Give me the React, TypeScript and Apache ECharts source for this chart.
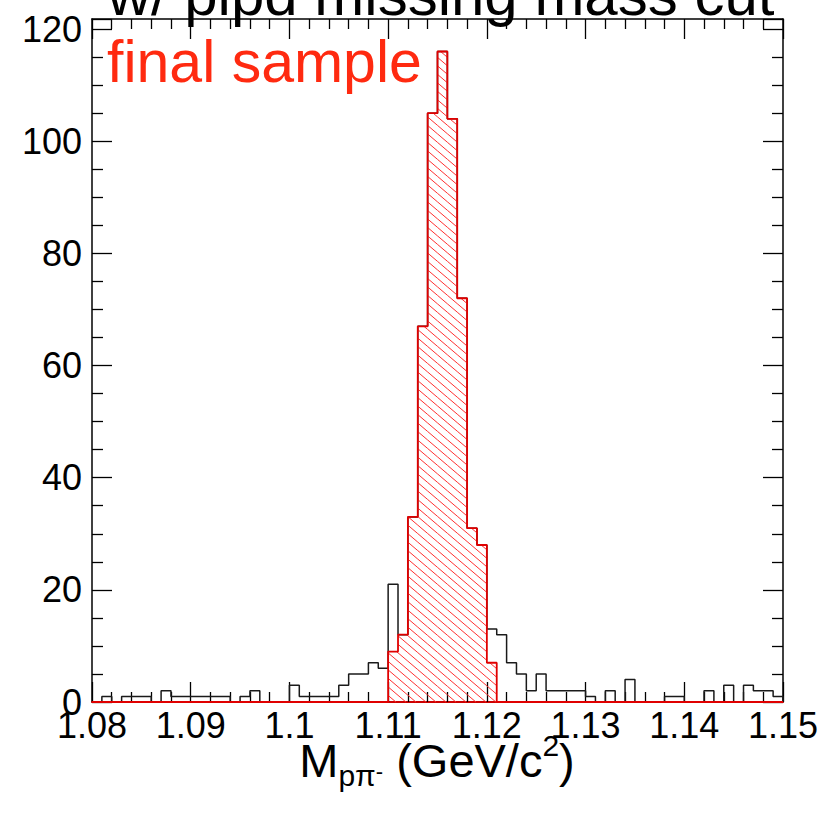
import React, { useEffect, useRef } from "react";
import * as echarts from "echarts";

// ---- axis / binning ----
const X_MIN = 1.08;
const X_MAX = 1.15;
const BIN_WIDTH = 0.001;
const Y_MAX = 121.8;

// ---- data (counts per 0.001 GeV/c^2 bin, starting at 1.080) ----
const allCounts = [
  0, 1, 0, 1, 1, 1, 0, 2, 1, 1, 1, 1, 1, 1, 0, 1, 2, 0, 0, 0,
  3, 1, 1, 1, 1, 3, 5, 5, 7, 6,
  21, 12, 33, 67, 105, 116, 104, 72, 31, 28, 13,
  12, 7, 5, 2, 5, 2, 2, 2, 2, 1, 0, 2, 0, 4, 0, 0, 0, 1, 1, 0,
  0, 2, 0, 3, 0, 3, 2, 2, 1,
];
const finalFirstBin = 30;
const finalCounts = [9, 12, 33, 67, 105, 116, 104, 72, 31, 28, 7];

const xTickLabels = ["1.08", "1.09", "1.1", "1.11", "1.12", "1.13", "1.14", "1.15"];
const yTickLabels = ["0", "20", "40", "60", "80", "100", "120"];

const TITLE = "w/ pipd missing mass cut";
const LEGEND_TEXT = "final sample";

const FONT = "'Liberation Sans', Arial, Helvetica, sans-serif";

function edge(i: number): number {
  return +(X_MIN + i * BIN_WIDTH).toFixed(4);
}

function outline(counts: number[], firstBin: number, fullBase: boolean): number[][] {
  const pts: number[][] = [];
  if (fullBase) pts.push([X_MIN, 0]);
  pts.push([edge(firstBin), 0]);
  counts.forEach((c, k) => {
    pts.push([edge(firstBin + k), c]);
    pts.push([edge(firstBin + k + 1), c]);
  });
  pts.push([edge(firstBin + counts.length), 0]);
  if (fullBase) pts.push([X_MAX, 0]);
  return pts;
}

function labelFrom(list: string[]) {
  return (v: number) => {
    const hit = list.find((l) => Math.abs(parseFloat(l) - v) < 1e-6);
    return hit === undefined ? "" : hit;
  };
}

export default function App() {
  const ref = useRef<HTMLDivElement>(null);

  useEffect(() => {
    document.body.style.margin = "0";
    if (!ref.current) return;
    const chart = echarts.init(ref.current, undefined, { renderer: "svg" });

    const tickStyle = { color: "#000", width: 1.3 };

    const option: any = {
      animation: false,
      backgroundColor: "#fff",
      grid: { left: 92, top: 19, width: 691, height: 683, containLabel: false },
      xAxis: [
        {
          type: "value",
          position: "bottom",
          min: X_MIN,
          max: X_MAX,
          interval: 0.01,
          axisLine: { show: true, onZero: false, lineStyle: { color: "#cc0000", width: 2 } },
          axisTick: { show: true, inside: true, length: 20, lineStyle: tickStyle },
          minorTick: { show: true, splitNumber: 5, length: 10, lineStyle: tickStyle },
          splitLine: { show: false },
          axisLabel: {
            show: true,
            margin: 5,
            fontSize: 36,
            color: "#000",
            fontFamily: FONT,
            formatter: labelFrom(xTickLabels),
          },
        },
        {
          type: "value",
          position: "top",
          min: X_MIN,
          max: X_MAX,
          interval: 0.01,
          axisLine: { show: true, onZero: false, lineStyle: { color: "#000", width: 1.5 } },
          axisTick: { show: true, inside: true, length: 20, lineStyle: tickStyle },
          minorTick: { show: true, splitNumber: 5, length: 10, lineStyle: tickStyle },
          splitLine: { show: false },
          axisLabel: { show: false },
        },
      ],
      yAxis: [
        {
          type: "value",
          position: "left",
          min: 0,
          max: Y_MAX,
          interval: 20,
          axisLine: { show: true, onZero: false, lineStyle: { color: "#000", width: 1.5 } },
          axisTick: { show: true, inside: true, length: 20, lineStyle: tickStyle },
          minorTick: { show: true, splitNumber: 4, length: 11, lineStyle: tickStyle },
          splitLine: { show: false },
          axisLabel: {
            show: true,
            margin: 10,
            fontSize: 36,
            color: "#000",
            fontFamily: FONT,
            formatter: labelFrom(yTickLabels),
          },
        },
        {
          type: "value",
          position: "right",
          min: 0,
          max: Y_MAX,
          interval: 20,
          axisLine: { show: true, onZero: false, lineStyle: { color: "#000", width: 1.5 } },
          axisTick: { show: true, inside: true, length: 20, lineStyle: tickStyle },
          minorTick: { show: true, splitNumber: 4, length: 11, lineStyle: tickStyle },
          splitLine: { show: false },
          axisLabel: { show: false },
        },
      ],
      series: [
        {
          name: "all",
          type: "line",
          xAxisIndex: 0,
          yAxisIndex: 0,
          data: outline(allCounts, 0, false),
          showSymbol: false,
          symbol: "none",
          clip: false,
          silent: true,
          lineStyle: { color: "#1a1a1a", width: 1.5 },
          z: 2,
        },
        {
          name: "hatch",
          type: "custom",
          xAxisIndex: 0,
          yAxisIndex: 0,
          data: finalCounts.map((c, k) => [edge(finalFirstBin + k), edge(finalFirstBin + k + 1), c]),
          encode: { x: [0, 1], y: 2 },
          silent: true,
          z: 3,
          renderItem: (params: any, api: any) => {
            const lo = api.value(0);
            const hi = api.value(1);
            const v = api.value(2);
            const a = api.coord([lo, v]);
            const b = api.coord([hi, 0]);
            const x1 = a[0], x2 = b[0], y1 = a[1], y2 = b[1];
            const m = 0.85;
            const s = 8.5;
            const children: any[] = [];
            const kMin = Math.ceil((y1 - m * x2) / s);
            const kMax = Math.floor((y2 - m * x1) / s);
            for (let k = kMin; k <= kMax; k++) {
              const c = k * s;
              const xa = Math.max(x1, (y1 - c) / m);
              const xb = Math.min(x2, (y2 - c) / m);
              if (xb > xa) {
                children.push({
                  type: "line",
                  shape: { x1: xa, y1: m * xa + c, x2: xb, y2: m * xb + c },
                  style: { stroke: "#ff3030", lineWidth: 1 },
                });
              }
            }
            return { type: "group", children };
          },
        },
        {
          name: LEGEND_TEXT,
          type: "line",
          xAxisIndex: 0,
          yAxisIndex: 0,
          data: outline(finalCounts, finalFirstBin, true),
          showSymbol: false,
          symbol: "none",
          clip: false,
          silent: true,
          lineStyle: { color: "#e00000", width: 1.8 },
          z: 4,
        },
      ],
      graphic: [
        {
          type: "text",
          x: 441,
          y: -6,
          silent: true,
          style: {
            text: TITLE,
            fontSize: 60,
            fontFamily: FONT,
            fill: "#000",
            textAlign: "center",
            textVerticalAlign: "middle",
          },
        },
        {
          type: "text",
          x: 107,
          y: 62,
          silent: true,
          style: {
            text: LEGEND_TEXT,
            fontSize: 59,
            fontFamily: FONT,
            fill: "#ff2a10",
            textAlign: "left",
            textVerticalAlign: "middle",
          },
        },
        {
          type: "text",
          x: 437,
          y: 760,
          silent: true,
          style: {
            text: "{m|M}{sub|pπ}{sup|-}{m| (GeV/c}{sup2|2}{m|)}",
            fontFamily: FONT,
            fill: "#000",
            textAlign: "center",
            textVerticalAlign: "middle",
            rich: {
              m: { fontSize: 47, lineHeight: 60, verticalAlign: "middle", fontFamily: FONT, fill: "#000" },
              sub: { fontSize: 30, lineHeight: 24, verticalAlign: "bottom", fontFamily: FONT, fill: "#000" },
              sup: { fontSize: 22, verticalAlign: "bottom", padding: [0, 0, 8, 0], fontFamily: FONT, fill: "#000" },
              sup2: { fontSize: 30, lineHeight: 30, verticalAlign: "top", fontFamily: FONT, fill: "#000" },
            },
          },
        },
      ],
    };

    chart.setOption(option);
    return () => {
      chart.dispose();
    };
  }, []);

  return <div ref={ref} style={{ width: 831, height: 816 }} />;
}
